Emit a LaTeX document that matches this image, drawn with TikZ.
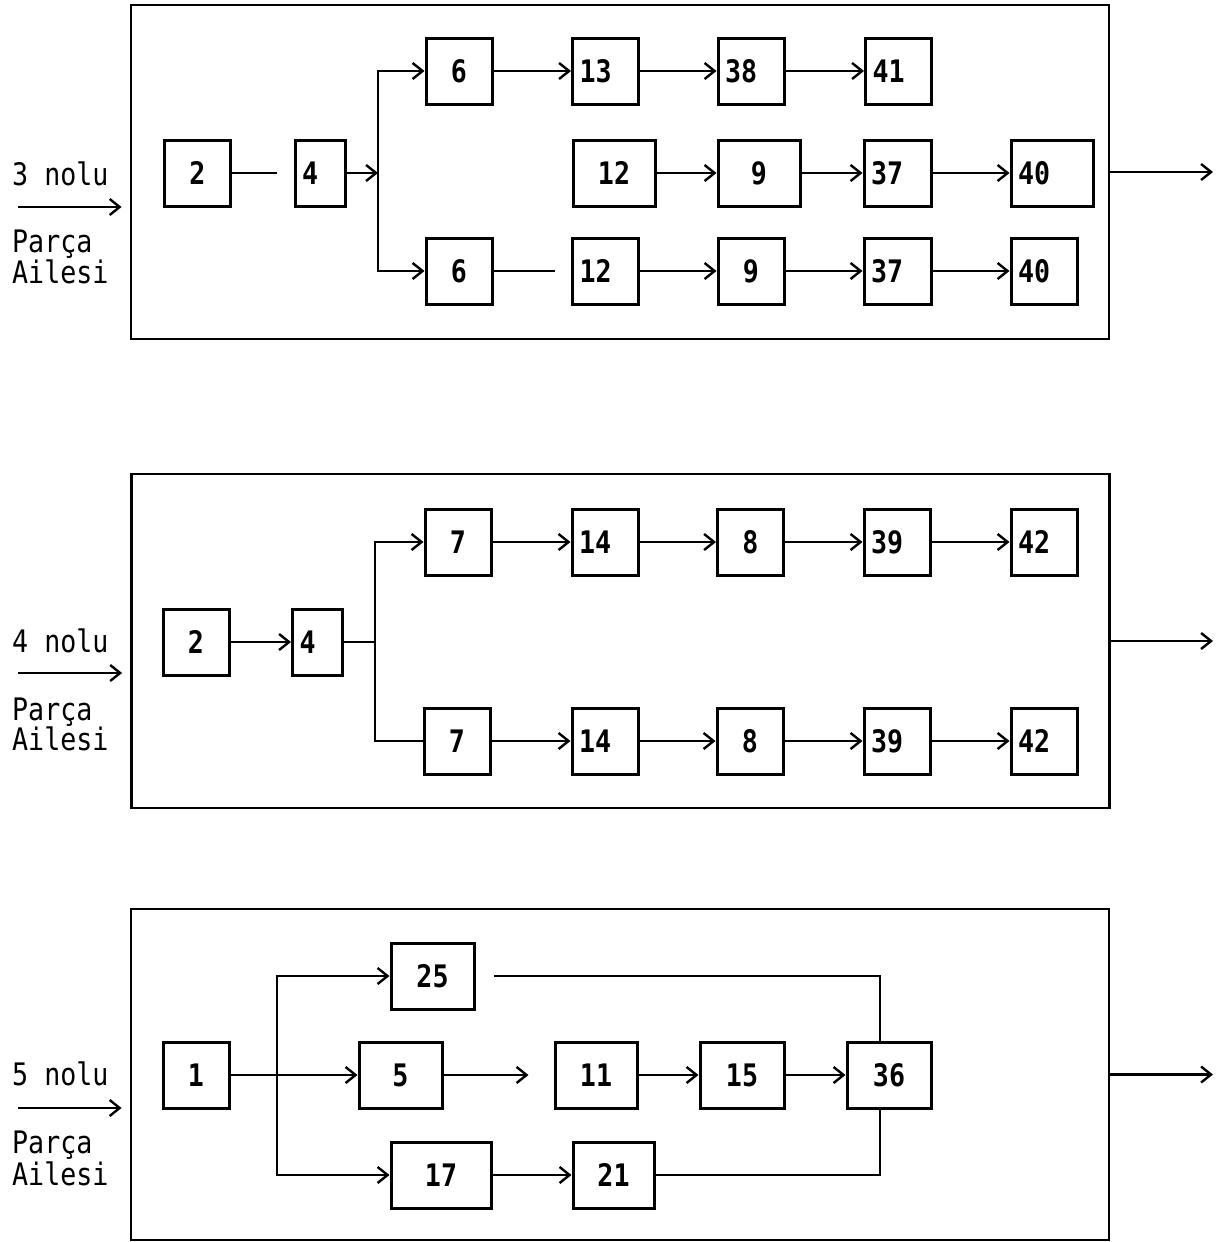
\documentclass[tikz,border=0pt]{standalone}
\usepackage{fontspec}
\setmonofont[FakeStretch=0.86]{DejaVu Sans Mono}
\usetikzlibrary{arrows.meta}

\begin{document}
\begin{tikzpicture}[
    x=1pt, y=-1pt,
    font=\ttfamily\bfseries\fontsize{31}{34}\selectfont,
    >={Straight Barb[length=10pt,width=16pt]},
    box/.style={draw, line width=3pt, minimum width=66pt, minimum height=66pt, inner sep=0pt},
    wbox/.style={box, minimum width=#1},
    lbox/.style={box, minimum width=0pt, inner xsep=7pt, text width=#1, align=left},
    frame/.style={draw, line width=2.8pt, minimum width=978pt, minimum height=334pt, inner sep=0pt},
    flow/.style={->, line width=2.4pt},
    link/.style={line width=2.4pt},
    fam/.style={anchor=base west, inner sep=0pt, font=\ttfamily\fontsize{31}{34}\selectfont}
]
\useasboundingbox (0,0) rectangle (1230,1242);

\node[frame] (f1) at (620,172) {};
\node[fam] (n1) at (12,185) {3 nolu};
\node[fam] (pa1) at (12,252) {Parça};
\node[fam] (ai1) at (12,283) {Ailesi};
\coordinate (i1) at (18,207);
\coordinate (o1) at (1213,172);
\coordinate (s1) at (378,173);

\node[box] (p1a) at (197.5,173) {2};
\node[lbox=36pt] (p1b) at (320,173) {4};
\node[box] (p1c) at (459,71) {6};
\node[lbox=52pt] (p1d) at (605.5,71) {13};
\node[lbox=52pt] (p1e) at (751,71) {38};
\node[lbox=52pt] (p1f) at (898.5,71) {41};
\node[wbox=82pt] (p1g) at (614,173) {12};
\node[wbox=82pt] (p1h) at (759,173) {9};
\node[lbox=53pt] (p1i) at (897.5,173) {37};
\node[lbox=68pt] (p1j) at (1052,173) {40};
\node[box] (p1k) at (459,271) {6};
\node[lbox=52pt] (p1l) at (605.5,271) {12};
\node[box] (p1m) at (751,271) {9};
\node[lbox=53pt] (p1n) at (897.5,271) {37};
\node[lbox=52pt] (p1o) at (1044,271) {40};

\draw[flow, shorten >=8pt] (i1) -- (i1 -| f1.west);
\draw[flow] (f1) -- (o1);
\draw[link, shorten >=17pt] (p1a) -- (p1b);
\draw[flow] (p1b) -- (s1);
\draw[flow] (s1) |- (p1c);
\draw[flow] (s1) |- (p1k);
\draw[flow] (p1c) -- (p1d);
\draw[flow] (p1d) -- (p1e);
\draw[flow] (p1e) -- (p1f);
\draw[flow] (p1g) -- (p1h);
\draw[flow] (p1h) -- (p1i);
\draw[flow] (p1i) -- (p1j);
\draw[link, shorten >=16pt] (p1k) -- (p1l);
\draw[flow] (p1l) -- (p1m);
\draw[flow] (p1m) -- (p1n);
\draw[flow] (p1n) -- (p1o);

\node[frame] (f2) at (620.5,641) {};
\node[fam] (n2) at (12,652) {4 nolu};
\node[fam] (pa2) at (12,720) {Parça};
\node[fam] (ai2) at (12,750) {Ailesi};
\coordinate (i2) at (18,673);
\coordinate (o2) at (1213,641);
\coordinate (s2) at (375,642);

\node[box] (p2a) at (196,642) {2};
\node[lbox=36pt] (p2b) at (317.5,642) {4};
\node[box] (p2c) at (458,542) {7};
\node[lbox=52pt] (p2d) at (605,542) {14};
\node[box] (p2e) at (750.5,542) {8};
\node[lbox=52pt] (p2f) at (897,542) {39};
\node[lbox=52pt] (p2g) at (1044,542) {42};
\node[box] (p2h) at (457,741) {7};
\node[lbox=52pt] (p2i) at (605,741) {14};
\node[box] (p2j) at (750,741) {8};
\node[lbox=52pt] (p2k) at (897,741) {39};
\node[lbox=52pt] (p2l) at (1044,741) {42};

\draw[flow, shorten >=8pt] (i2) -- (i2 -| f2.west);
\draw[flow] (f2) -- (o2);
\draw[flow] (p2a) -- (p2b);
\draw[link] (p2b) -- (s2);
\draw[flow] (s2) |- (p2c);
\draw[link] (s2) |- (p2h);
\draw[flow] (p2c) -- (p2d);
\draw[flow] (p2d) -- (p2e);
\draw[flow] (p2e) -- (p2f);
\draw[flow] (p2f) -- (p2g);
\draw[flow] (p2h) -- (p2i);
\draw[flow] (p2i) -- (p2j);
\draw[flow] (p2j) -- (p2k);
\draw[flow] (p2k) -- (p2l);

\node[frame, minimum height=331pt] (f3) at (620,1074.5) {};
\node[fam] (n3) at (12,1085) {5 nolu};
\node[fam] (pa3) at (12,1153) {Parça};
\node[fam] (ai3) at (12,1185) {Ailesi};
\coordinate (i3) at (18,1108);
\coordinate (o3) at (1213,1074.5);
\coordinate (s3) at (277,1075);

\node[box] (p3a) at (196,1075) {1};
\node[wbox=83pt] (p3b) at (432.5,976) {25};
\node[wbox=83pt] (p3c) at (400.5,1075) {5};
\node[wbox=100pt] (p3d) at (441,1175) {17};
\node[wbox=82pt] (p3e) at (596,1075) {11};
\node[wbox=84pt] (p3f) at (742,1075) {15};
\node[wbox=84pt] (p3g) at (889,1075) {36};
\node[wbox=81pt] (p3h) at (613.5,1175) {21};

\draw[flow, shorten >=8pt] (i3) -- (i3 -| f3.west);
\draw[flow] (f3) -- (o3);
\draw[flow] (p3a) -- (p3c);
\draw[flow] (s3) |- (p3b);
\draw[flow] (s3) |- (p3d);
\draw[flow, shorten >=25pt] (p3c) -- (p3e);
\draw[flow] (p3e) -- (p3f);
\draw[flow] (p3f) -- (p3g);
\draw[flow] (p3d) -- (p3h);
\draw[link, shorten <=18pt] (p3b) -| ([xshift=-9pt]p3g.north);
\draw[link] (p3h) -| ([xshift=-9pt]p3g.south);
\end{tikzpicture}
\end{document}
